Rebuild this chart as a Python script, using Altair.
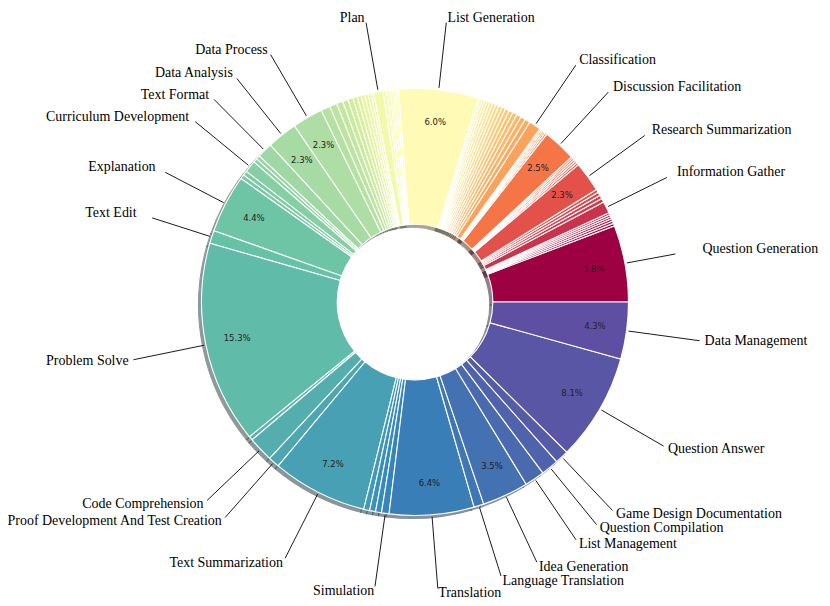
import math
import altair as alt
import pandas as pd

# Slices, counter-clockwise from 3 o'clock ("" = slice without a label)
categories = [
    "Question Generation", "", "", "", "", "", "",
    "Information Gather", "", "", "", "",
    "Research Summarization", "", "", "", "", "",
    "Discussion Facilitation", "", "", "", "", "",
    "Classification", "", "", "", "", "", "", "", "", "", "", "", "", "", "", "", "",
    "List Generation", "", "", "", "", "",
    "Plan", "", "", "", "", "", "", "", "", "", "", "",
    "Data Process", "Data Analysis", "Text Format", "", "",
    "Curriculum Development", "", "",
    "Explanation", "Text Edit", "Problem Solve", "",
    "Code Comprehension", "Proof Development And Test Creation",
    "Text Summarization", "", "", "", "Simulation",
    "Translation", "Language Translation", "Idea Generation",
    "List Management", "Question Compilation", "Game Design Documentation",
    "Question Answer", "Data Management",
]
values = [
    5.8, 0.2, 0.19, 0.18, 0.17, 0.16, 0.15,
    0.9, 0.3, 0.27, 0.26, 0.24,
    2.3, 0.17, 0.16, 0.15, 0.15, 0.14,
    2.5, 0.15, 0.14, 0.13, 0.12, 0.11,
    0.9, 0.4, 0.38, 0.35, 0.33, 0.31, 0.3, 0.28, 0.27, 0.25, 0.24, 0.23, 0.22, 0.2, 0.19, 0.16, 0.15,
    6.0, 0.2, 0.22, 0.23, 0.25, 0.27,
    0.72, 0.2, 0.22, 0.25, 0.28, 0.3, 0.34, 0.38, 0.42, 0.48, 0.56, 0.7,
    2.3, 2.3, 1.15, 0.3, 0.3,
    0.9, 0.35, 0.31,
    4.4, 0.98, 15.3, 0.3,
    1.9, 0.85,
    7.2, 0.45, 0.45, 0.45, 0.57,
    6.4, 0.75, 3.5,
    1.5, 1.33, 1.03,
    8.1, 4.3,
]

W, H = 816, 568
PAD_TOP, PAD_BOTTOM = 10, 20
R_OUT, R_IN = 214, 78
PCT_R = 182
LINE_R1, LINE_R2, LABEL_R = 216, 288, 293
TOP_LIMIT = H / 2 + PAD_TOP - 9   # keep label text inside the drawing
SHADOW_DX = 3

SPECTRAL = ["#9e0142", "#d53e4f", "#f46d43", "#fdae61", "#fee08b", "#ffffbf",
            "#e6f598", "#abdda4", "#66c2a5", "#3288bd", "#5e4fa2"]


def hex2rgb(h):
    return [int(h[i:i + 2], 16) / 255 for i in (1, 3, 5)]


def rgb2hex(c):
    return "#" + "".join(f"{max(0, min(255, round(v * 255))):02x}" for v in c)


def spectral(t):
    pos = t * (len(SPECTRAL) - 1)
    i = min(int(pos), len(SPECTRAL) - 2)
    f = pos - i
    a, b = hex2rgb(SPECTRAL[i]), hex2rgb(SPECTRAL[i + 1])
    return [a[k] + (b[k] - a[k]) * f for k in range(3)]


total = sum(values)
n = len(values)
rows = []
cum = 0.0
for i, (name, v) in enumerate(zip(categories, values)):
    c0, c1 = cum, cum + v
    cum = c1
    cm = (c0 + c1) / 2
    phi = 2 * math.pi * cm / total
    pct = 100 * v / total
    col = spectral(i / (n - 1))
    cx, sy = math.cos(phi), math.sin(phi)
    ty = min(LABEL_R * sy, TOP_LIMIT)
    r2 = LINE_R2
    if sy > 0 and LINE_R2 * sy > ty - 5:
        r2 = (ty - 5) / sy
    rows.append(dict(
        key=i, name=name, value=v,
        u0=total - c1, u1=total - c0, um=total - cm,
        color=rgb2hex(col), shadow=rgb2hex([c * 0.3 for c in col]),
        pct=f"{pct:.1f}%" if pct >= 2 else "",
        lx1=LINE_R1 * cx, ly1=LINE_R1 * sy,
        lx2=r2 * cx, ly2=r2 * sy,
        tx=LABEL_R * cx, ty=ty,
        right=cx >= 0,
    ))
df = pd.DataFrame(rows)
lab = df[df["name"] != ""]

th_scale = alt.Scale(domain=[0, total], range=[math.pi / 2, 5 * math.pi / 2])
xs = alt.Scale(domain=[-W / 2, W / 2], range=[0, W])
ys = alt.Scale(domain=[-H / 2, H / 2], range=[H, 0])

theta = alt.Theta("u0:Q", stack=False, scale=th_scale)
theta2 = alt.Theta2("u1:Q")

shadow = alt.Chart(df).mark_arc(radius=R_OUT, radius2=R_IN, opacity=0.5, strokeWidth=1.1).encode(
    theta=theta, theta2=theta2,
    fill=alt.Fill("shadow:N", scale=None),
    stroke=alt.Stroke("shadow:N", scale=None),
    x=alt.value(W / 2 - SHADOW_DX), y=alt.value(H / 2 + SHADOW_DX),
)

arcs = alt.Chart(df).mark_arc(radius=R_OUT, radius2=R_IN, stroke="white", strokeWidth=1.1).encode(
    theta=theta, theta2=theta2,
    fill=alt.Fill("color:N", scale=None),
)

pcts = alt.Chart(df[df["pct"] != ""]).mark_text(
    radius=PCT_R, font="DejaVu Sans", fontSize=8.5, color="#222222",
    align="center", baseline="middle",
).encode(theta=alt.Theta("um:Q", stack=False, scale=th_scale), text="pct:N")

lines = alt.Chart(lab).mark_rule(color="black", strokeWidth=0.9).encode(
    x=alt.X("lx1:Q", scale=xs, axis=None), y=alt.Y("ly1:Q", scale=ys, axis=None),
    x2="lx2:Q", y2="ly2:Q",
)

lab_r = alt.Chart(lab[lab["right"]]).mark_text(
    align="left", baseline="middle", font="Liberation Serif", fontSize=14, color="black",
).encode(x=alt.X("tx:Q", scale=xs, axis=None), y=alt.Y("ty:Q", scale=ys, axis=None), text="name:N")

lab_l = alt.Chart(lab[~lab["right"]]).mark_text(
    align="right", baseline="middle", font="Liberation Serif", fontSize=14, color="black",
).encode(x=alt.X("tx:Q", scale=xs, axis=None), y=alt.Y("ty:Q", scale=ys, axis=None), text="name:N")

chart = alt.layer(shadow, arcs, pcts, lines, lab_r, lab_l).properties(
    width=W, height=H,
    padding={"left": 0, "top": PAD_TOP, "right": 0, "bottom": PAD_BOTTOM},
    autosize=alt.AutoSizeParams(type="none"),
).configure_view(stroke=None)

chart.save("out.html", embed_options={"renderer": "svg", "actions": False})
